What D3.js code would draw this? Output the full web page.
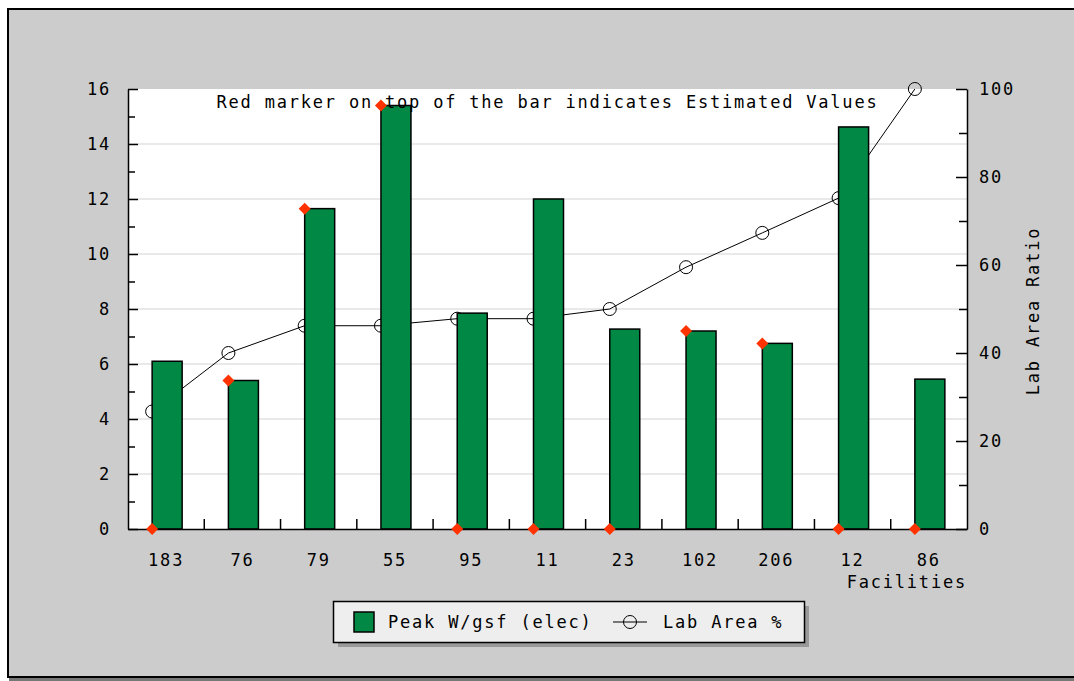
<!DOCTYPE html>
<html>
<head>
<meta charset="utf-8">
<script src="https://cdn.jsdelivr.net/npm/d3@7/dist/d3.min.js"></script>
<style>
  body { margin: 0; background: #fff; }
  text { font-family: "DejaVu Sans Mono", monospace; font-size: 17px; fill: #000; letter-spacing: 1.8px; }
</style>
</head>
<body>
<div class="js-chart"></div>
<script>
// Chart data.
var facilities = ['183', '76', '79', '55', '95', '11', '23', '102', '206', '12', '86'];
var peakWgsf = [6.1, 5.4, 11.65, 15.4, 7.85, 12.0, 7.27, 7.2, 6.75, 14.62, 5.45];
// Red marker sits on top of bars with estimated values, 0 otherwise.
var estimatedMarker = [0, 5.4, 11.65, 15.4, 0, 0, 0, 7.2, 6.75, 0, 0];
var labAreaPct = [26.7, 40, 46.2, 46.2, 47.8, 47.8, 50, 59.5, 67.3, 75.2, 100];
var leftTicks = [0, 2, 4, 6, 8, 10, 12, 14, 16];
var rightTicks = [0, 20, 40, 60, 80, 100];

;(function() {
  'use strict';

  var W = 1074, H = 681;
  var plot = {left: 128, right: 967, top: 89, bottom: 529};

  var svg = d3.select('.js-chart').append('svg')
      .attr('width', W)
      .attr('height', H);

  // Outer frame with a grey background.
  svg.append('rect')
      .attr('x', 9).attr('y', 678).attr('width', W).attr('height', 3)
      .style('fill', '#777');
  svg.append('rect')
      .attr('x', 8).attr('y', 9).attr('width', W + 10).attr('height', 668)
      .style('fill', '#cccccc')
      .style('stroke', '#000')
      .style('stroke-width', 2);

  var x = d3.scaleBand()
      .domain(facilities)
      .range([plot.left, plot.right]);

  var yLeft = d3.scaleLinear()
      .domain([0, 16])
      .range([plot.bottom, plot.top]);

  var yRight = d3.scaleLinear()
      .domain([0, 100])
      .range([plot.bottom, plot.top]);

  var barW = 30;
  function barX(d) { return x(d) + (x.bandwidth() - barW) / 2 + 1; }

  // Plot area
  svg.append('rect')
      .attr('x', plot.left).attr('y', plot.top)
      .attr('width', plot.right - plot.left)
      .attr('height', plot.bottom - plot.top)
      .style('fill', '#fff');

  // Gridlines
  svg.append('g').selectAll('line')
      .data(leftTicks.slice(1, -1))
      .enter().append('line')
      .attr('x1', plot.left).attr('x2', plot.right)
      .attr('y1', function(d) { return yLeft(d); })
      .attr('y2', function(d) { return yLeft(d); })
      .style('stroke', '#e2e2e2')
      .style('stroke-width', 1.5);

  // Lab area line, drawn under the bars.
  var line = d3.line()
      .x(function(d, i) { return barX(facilities[i]); })
      .y(function(d) { return yRight(d); });

  svg.append('path')
      .datum(labAreaPct)
      .attr('d', line)
      .style('fill', 'none')
      .style('stroke', '#000')
      .style('stroke-width', 1);

  svg.append('g').selectAll('circle')
      .data(labAreaPct)
      .enter().append('circle')
      .attr('cx', function(d, i) { return barX(facilities[i]); })
      .attr('cy', function(d) { return yRight(d); })
      .attr('r', 6.5)
      .style('fill', 'none')
      .style('stroke', '#000')
      .style('stroke-width', 1);

  // Bars
  svg.append('g').selectAll('rect')
      .data(peakWgsf)
      .enter().append('rect')
      .attr('x', function(d, i) { return barX(facilities[i]); })
      .attr('y', function(d) { return yLeft(d); })
      .attr('width', barW)
      .attr('height', function(d) { return plot.bottom - yLeft(d); })
      .style('fill', '#008844')
      .style('stroke', '#000')
      .style('stroke-width', 1.5);

  // Annotation
  svg.append('text')
      .attr('x', (plot.left + plot.right) / 2)
      .attr('y', 108)
      .attr('text-anchor', 'middle')
      .text('Red marker on top of the bar indicates Estimated Values');

  // Left axis
  var axisL = svg.append('g')
      .attr('transform', 'translate(' + plot.left + ',0)')
      .call(d3.axisLeft(yLeft).tickValues(leftTicks)
            .tickSizeInner(-10).tickSizeOuter(0).tickPadding(17));
  svg.append('g')
      .attr('transform', 'translate(' + plot.left + ',0)')
      .call(d3.axisLeft(yLeft).tickValues(d3.range(1, 16, 2))
            .tickSizeInner(-7).tickSizeOuter(0).tickFormat(''))
      .select('.domain').remove();

  // Right axis
  var axisR = svg.append('g')
      .attr('transform', 'translate(' + plot.right + ',0)')
      .call(d3.axisRight(yRight).tickValues(rightTicks)
            .tickSizeInner(-11).tickSizeOuter(0).tickPadding(12));
  svg.append('g')
      .attr('transform', 'translate(' + plot.right + ',0)')
      .call(d3.axisRight(yRight).tickValues(d3.range(10, 100, 20))
            .tickSizeInner(-8).tickSizeOuter(0).tickFormat(''))
      .select('.domain').remove();

  // Bottom axis: labels at band centres, ticks at band edges.
  var axisB = svg.append('g')
      .attr('transform', 'translate(0,' + plot.bottom + ')')
      .call(d3.axisBottom(x).tickSize(0).tickPadding(25));
  svg.append('g').selectAll('line')
      .data(facilities.slice(1))
      .enter().append('line')
      .attr('x1', function(d) { return x(d); })
      .attr('x2', function(d) { return x(d); })
      .attr('y1', plot.bottom)
      .attr('y2', plot.bottom - 10)
      .style('stroke', '#000')
      .style('stroke-width', 1.5);

  svg.selectAll('.domain, .tick line')
      .style('stroke', '#000')
      .style('stroke-width', 1.5);
  svg.selectAll('.tick text')
      .style('font-family', '"DejaVu Sans Mono", monospace')
      .style('font-size', '17px');

  // Estimated value markers
  svg.append('g').selectAll('path')
      .data(estimatedMarker)
      .enter().append('path')
      .attr('transform', function(d, i) {
        return 'translate(' + barX(facilities[i]) + ',' + yLeft(d) + ')';
      })
      .attr('d', 'M0,-6L6,0L0,6L-6,0Z')
      .style('fill', '#ff3300');

  // Axis titles
  svg.append('text')
      .attr('transform', 'translate(1039,311) rotate(-90)')
      .attr('text-anchor', 'middle')
      .text('Lab Area Ratio');
  svg.append('text')
      .attr('x', 967)
      .attr('y', 588)
      .attr('text-anchor', 'end')
      .text('Facilities');

  // Legend
  var legend = svg.append('g');
  legend.append('rect')
      .attr('x', 338).attr('y', 606).attr('width', 471).attr('height', 41)
      .style('fill', '#999');
  legend.append('rect')
      .attr('x', 333.5).attr('y', 601.5).attr('width', 471).attr('height', 41)
      .style('fill', '#eeeeee')
      .style('stroke', '#000')
      .style('stroke-width', 1.5);
  legend.append('rect')
      .attr('x', 354).attr('y', 612).attr('width', 20).attr('height', 20)
      .style('fill', '#008844')
      .style('stroke', '#000')
      .style('stroke-width', 1.5);
  legend.append('text')
      .attr('x', 388).attr('y', 628)
      .text('Peak W/gsf (elec)');
  legend.append('line')
      .attr('x1', 613).attr('x2', 647).attr('y1', 622).attr('y2', 622)
      .style('stroke', '#000');
  legend.append('circle')
      .attr('cx', 630).attr('cy', 622).attr('r', 6.5)
      .style('fill', 'none')
      .style('stroke', '#000');
  legend.append('text')
      .attr('x', 663).attr('y', 628)
      .text('Lab Area %');
}());
</script>
</body>
</html>
